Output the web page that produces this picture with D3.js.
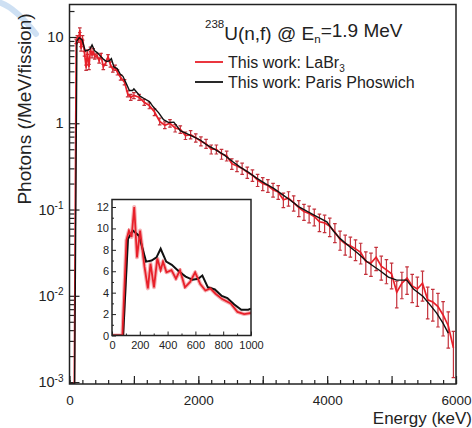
<!DOCTYPE html>
<html><head><meta charset="utf-8">
<script src="https://cdn.jsdelivr.net/npm/d3@7"></script>
<style>
body{margin:0;background:#fff}
svg{display:block}
text{font-family:"Liberation Sans",Arial,Helvetica,sans-serif;fill:#222}
</style></head><body>
<svg id="chart" width="472" height="428"></svg>
<script>
// ---------- data ----------
const redE = [0,40,75,104,122,141,160,180,202,234,258,277,302,326,350,367,392,428,460,489,525,562,598,635,672,708,745,793,854,903,951,
  1000,1080,1160,1240,1320,1400,1480,1560,1640,1720,1800,1880,1960,2040,2120,2200,2280,2360,2440,2520,2600,2680,2760,2840,2920,
  3000,3080,3160,3240,3320,3400,3480,3560,3640,3720,3800,3880,3960,4040,4120,4200,4280,4360,4440,4520,4600,4680,4760,4840,4920,
  5000,5080,5160,5240,5320,5400,5480,5560,5640,5720,5800,5880,5960];
const redV = [0,0,0,8.9,9.8,9.2,12.0,7.3,9.8,6.4,4.4,6.7,4.5,7.2,6.1,6.9,5.9,6.1,5.3,6.1,4.5,5.0,5.9,4.8,4.2,4.4,3.9,3.4,3.0,2.2,2.0,
  2.1,2.0,1.75,1.6,1.35,1.05,0.95,1.0,0.88,0.85,0.72,0.74,0.68,0.62,0.58,0.50,0.50,0.44,0.42,0.34,0.32,0.30,0.27,0.25,0.22,
  0.20,0.19,0.17,0.16,0.13,0.135,0.12,0.105,0.095,0.090,0.083,0.072,0.070,0.064,0.055,0.045,0.040,0.038,0.035,0.032,0.025,0.024,0.028,0.022,0.020,
  0.018,0.011,0.014,0.016,0.013,0.012,0.014,0.009,0.0085,0.0075,0.006,0.0045,0.0025];
const redErr = [0,0,0,0.06,0.06,0.06,0.06,0.06,0.06,0.06,0.07,0.06,0.07,0.06,0.06,0.06,0.06,0.06,0.06,0.06,0.07,0.06,0.06,0.07,0.07,0.07,0.07,0.07,0.07,0.08,0.08,
  0.08,0.08,0.08,0.08,0.09,0.09,0.09,0.10,0.10,0.10,0.10,0.11,0.11,0.12,0.12,0.12,0.12,0.13,0.13,0.14,0.14,0.15,0.15,0.15,0.16,
  0.17,0.17,0.18,0.18,0.19,0.19,0.20,0.21,0.21,0.22,0.22,0.23,0.23,0.24,0.25,0.25,0.26,0.26,0.27,0.27,0.29,0.30,0.30,0.31,0.31,
  0.33,0.34,0.34,0.35,0.36,0.37,0.38,0.40,0.40,0.42,0.43,0.45,0.55];
const blackE = [0,40,80,115,150,195,245,285,320,350,390,430,480,530,580,620,650,690,740,790,830,880,930,980,1000,
  1100,1150,1240,1300,1385,1460,1540,1620,1720,1820,1920,2030,2130,2250,2400,2530,2650,2780,2910,3040,3170,3300,3430,3555,3690,3840,3995,
  4100,4202,4350,4480,4615,4720,4822,4950,5080,5235,5340,5489,5600,5700,5800,5880];
const blackV = [0,0,0,9.0,9.8,9.3,6.9,7.0,7.3,8.1,6.9,6.6,6.0,5.5,5.2,5.3,5.6,4.5,4.3,3.7,3.5,2.9,2.4,2.4,2.5,
  2.05,1.95,1.78,1.55,1.32,1.1,1.02,1.03,0.82,0.76,0.70,0.64,0.56,0.50,0.43,0.36,0.31,0.27,0.23,0.20,0.176,0.15,0.128,0.108,0.095,0.083,0.072,
  0.056,0.046,0.037,0.031,0.025,0.022,0.0195,0.0165,0.0152,0.0152,0.012,0.0098,0.0078,0.0063,0.0048,0.0037];
const xTickLabels = [0,2000,4000,6000];
const yTickValues = [0.001,0.01,0.1,1,10];
const insetXTicks = [0,200,400,600,800,1000];
const insetYTicks = [0,2,4,6,8,10,12];
const seriesNames = ["This work: LaBr", "This work: Paris Phoswich"];

// ---------- drawing ----------
const svg = d3.select("#chart");
const RED = "#e8202a", ERR = "#c4303a", BLK = "#111";
const L = 69.5, R = 456, T = 4.5, B = 384;
const yMin = 0.00095;
const x = d3.scaleLinear([0, 6000], [L, R]);
const y = d3.scaleLog([yMin, 23.8], [B, T]);

// faint blue artifact top-left
svg.append("path").attr("d","M-2,2 Q14,6 36,34").attr("fill","none")
  .attr("stroke","#b9d3ee").attr("stroke-width",6).attr("stroke-linecap","round").attr("opacity",0.7);

svg.append("defs").append("clipPath").attr("id","clipMain")
  .append("rect").attr("x",L).attr("y",T).attr("width",R-L).attr("height",B-T);

// axes
const gx = svg.append("g").attr("transform",`translate(0,${B})`);
gx.call(d3.axisBottom(x).tickValues(d3.range(0,6001,200)).tickSize(-4).tickFormat(""));
gx.call(g=>g.append("g").call(d3.axisBottom(x).tickValues([1000,3000,5000]).tickSize(-8).tickFormat("")));
const gx2 = svg.append("g").attr("transform",`translate(0,${B})`)
  .call(d3.axisBottom(x).tickValues(xTickLabels).tickSize(-8).tickPadding(11).tickFormat(d3.format("d")));
[gx,gx2].forEach(g=>{g.selectAll(".domain").remove(); g.selectAll("line").attr("stroke","#222").attr("stroke-width",1.2);});
gx2.selectAll("text").attr("font-size",13.5).attr("fill","#222");

const minorY = [];
for (let e=-3;e<=1;e++) for (let m=2;m<=9;m++){ const v=m*Math.pow(10,e); if (v<23.8) minorY.push(v); }
const gy = svg.append("g").attr("transform",`translate(${L},0)`)
  .call(d3.axisLeft(y).tickValues(minorY).tickSize(-5).tickFormat(""));
const gy2 = svg.append("g").attr("transform",`translate(${L},0)`)
  .call(d3.axisLeft(y).tickValues(yTickValues).tickSize(-10).tickPadding(6).tickFormat(""));
[gy,gy2].forEach(g=>{g.selectAll(".domain").remove(); g.selectAll("line").attr("stroke","#222").attr("stroke-width",1.2);});
gy2.selectAll("text").attr("font-size",14.5).attr("fill","#222").each(function(d){
  const t = d3.select(this); const e = Math.round(Math.log10(d));
  if (e===0) t.text("1");
  else if (e===1) t.text("10");
  else { t.append("tspan").text("10"); t.append("tspan").attr("font-size",10).attr("dy","-0.55em").text(String(e)); }
});

// axis titles
svg.append("text").attr("transform","translate(31,109) rotate(-90)").attr("text-anchor","middle")
  .attr("font-size",19).text("Photons (/MeV/fission)");
svg.append("text").attr("x",472).attr("y",424).attr("text-anchor","end").attr("font-size",17).text("Energy (keV)");

// main plot data
const main = svg.append("g").attr("clip-path","url(#clipMain)");
const redPts = redE.map((e,i)=>({e, v:redV[i], r:redErr[i]}));
const blkPts = blackE.map((e,i)=>({e, v:blackV[i]}));
const lineMain = d3.line().x(d=>x(d.e)).y(d=>y(Math.max(d.v,yMin)));
main.append("g").selectAll("g").data(redPts.filter(d=>d.v>0)).join("g").each(function(d){
  const g = d3.select(this), xx = x(d.e), y1 = y(d.v*(1-d.r)), y2 = y(d.v*(1+d.r));
  g.append("line").attr("x1",xx).attr("x2",xx).attr("y1",y1).attr("y2",y2);
  g.append("line").attr("x1",xx-1.8).attr("x2",xx+1.8).attr("y1",y1).attr("y2",y1);
  g.append("line").attr("x1",xx-1.8).attr("x2",xx+1.8).attr("y1",y2).attr("y2",y2);
}).attr("stroke",ERR).attr("stroke-width",1.2);
main.append("path").datum(redPts).attr("d",lineMain).attr("fill","none").attr("stroke",RED).attr("stroke-width",1.7);
main.append("path").datum(blkPts).attr("d",lineMain).attr("fill","none").attr("stroke",BLK).attr("stroke-width",1.4);

// frame
svg.append("rect").attr("x",L).attr("y",T).attr("width",R-L).attr("height",B-T)
  .attr("fill","none").attr("stroke","#222").attr("stroke-width",1.5);

// legend
const hdr = svg.append("text").attr("x",205).attr("y",35).attr("font-size",19);
hdr.append("tspan").attr("font-size",11.5).attr("dy","-0.62em").text("238");
hdr.append("tspan").attr("dy","0.62em").text("U(n,f) @ E");
hdr.append("tspan").attr("font-size",11.5).attr("dy","0.3em").text("n");
hdr.append("tspan").attr("dy","-0.3em").text("=1.9 MeV");
const legY = [62, 82], legC = [RED, BLK];
seriesNames.forEach((n,i)=>{
  svg.append("line").attr("x1",195).attr("x2",223).attr("y1",legY[i]).attr("y2",legY[i]).attr("stroke",legC[i]).attr("stroke-width",1.8);
  const t = svg.append("text").attr("x",228).attr("y",legY[i]+6).attr("font-size",16).text(n);
  if (i===0) t.append("tspan").attr("font-size",10).attr("dy","0.35em").text("3");
});

// inset
const IL = 112, IR = 251, IT = 199.5, IB = 335.5;
const ix = d3.scaleLinear([0,1000],[IL,IR]);
const iy = d3.scaleLinear([0,12.7],[IB,IT]);
svg.append("rect").attr("x",IL).attr("y",IT).attr("width",IR-IL).attr("height",IB-IT).attr("fill","#fff");
svg.append("defs").append("clipPath").attr("id","clipIn")
  .append("rect").attr("x",IL).attr("y",IT).attr("width",IR-IL).attr("height",IB-IT);
const ig = svg.append("g").attr("clip-path","url(#clipIn)");
const lineIn = d3.line().x(d=>ix(d.e)).y(d=>iy(d.v));
const redIn = redPts.filter(d=>d.e<=1000);
const blkIn = blkPts.filter(d=>d.e<=1000);
ig.append("path").datum(redIn).attr("d",lineIn).attr("fill","none").attr("stroke","#f4b3b6").attr("stroke-width",4).attr("stroke-linejoin","round");
ig.append("path").datum(blkIn).attr("d",lineIn).attr("fill","none").attr("stroke",BLK).attr("stroke-width",2);
ig.append("path").datum(redIn).attr("d",lineIn).attr("fill","none").attr("stroke",RED).attr("stroke-width",1.8);

const ixa = svg.append("g").attr("transform",`translate(0,${IB})`)
  .call(d3.axisBottom(ix).tickValues(insetXTicks).tickSize(-4).tickPadding(6).tickFormat(d3.format("d")));
const ixm = svg.append("g").attr("transform",`translate(0,${IB})`)
  .call(d3.axisBottom(ix).tickValues(d3.range(100,1000,200)).tickSize(-2).tickFormat(""));
const iya = svg.append("g").attr("transform",`translate(${IL},0)`)
  .call(d3.axisLeft(iy).tickValues(insetYTicks).tickSize(-4).tickPadding(3));
const iym = svg.append("g").attr("transform",`translate(${IL},0)`)
  .call(d3.axisLeft(iy).tickValues(d3.range(1,13,2)).tickSize(-2).tickFormat(""));
[ixa,ixm,iya,iym].forEach(g=>{g.selectAll(".domain").remove(); g.selectAll("line").attr("stroke","#222"); g.selectAll("text").attr("font-size",11).attr("fill","#222");});
svg.append("rect").attr("x",IL).attr("y",IT).attr("width",IR-IL).attr("height",IB-IT)
  .attr("fill","none").attr("stroke","#222").attr("stroke-width",1.5);
</script></body></html>
